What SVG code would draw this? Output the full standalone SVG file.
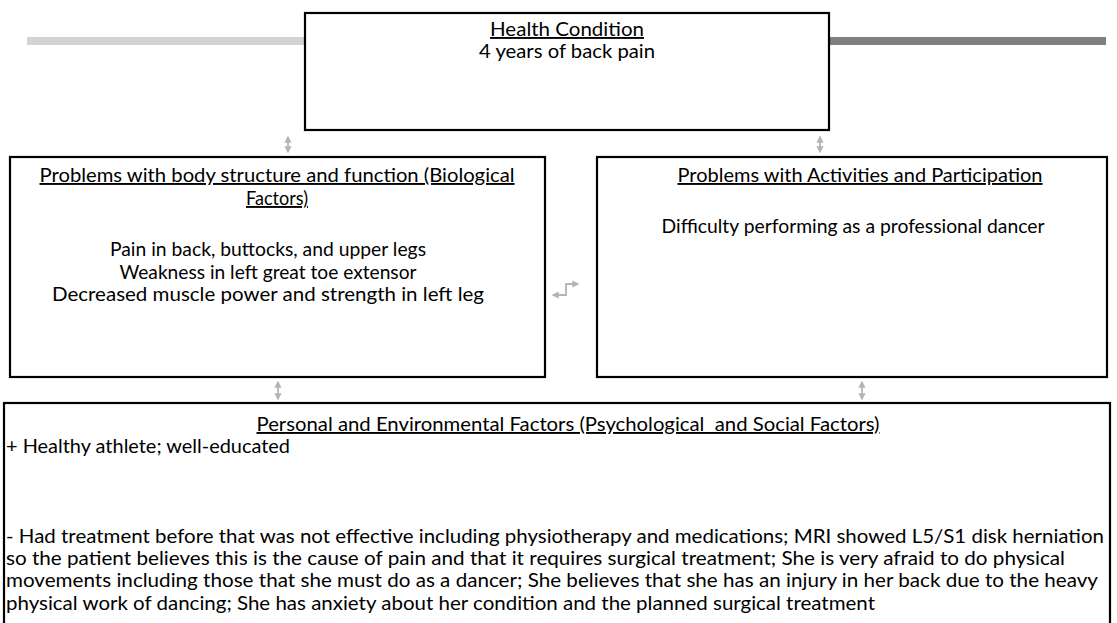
<svg xmlns="http://www.w3.org/2000/svg" width="1117" height="623" viewBox="0 0 1117 623">
<defs>
<style>
.box{fill:#fff;stroke:#000;stroke-width:2.2}
.t{font-family:"Lato","Liberation Sans",sans-serif;font-size:19px;fill:#000}
.c{text-anchor:middle}
.u{text-decoration:underline}
.conn{fill:none;stroke:#b4b4b4;stroke-width:1.8}
</style>
<marker id="ah" viewBox="0 0 10 10" refX="8" refY="5" markerWidth="4" markerHeight="4" orient="auto-start-reverse">
<path d="M0,0 L10,5 L0,10 z" fill="#b4b4b4"/>
</marker>
</defs>
<rect width="1117" height="623" fill="#fff"/>
<g id="bars">
<line x1="27" y1="41" x2="305" y2="41" stroke="#d3d3d3" stroke-width="8"/>
<line x1="829" y1="41" x2="1106" y2="41" stroke="#808080" stroke-width="8"/>
</g>
<g id="connectors">
<line class="conn" x1="288" y1="137" x2="288" y2="152" marker-start="url(#ah)" marker-end="url(#ah)"/>
<line class="conn" x1="820" y1="137" x2="820" y2="152" marker-start="url(#ah)" marker-end="url(#ah)"/>
<line class="conn" x1="278" y1="382" x2="278" y2="399" marker-start="url(#ah)" marker-end="url(#ah)"/>
<line class="conn" x1="862" y1="382" x2="862" y2="399" marker-start="url(#ah)" marker-end="url(#ah)"/>
<path class="conn" d="M553 295 H566 V284 H578" stroke-width="2" marker-start="url(#ah)" marker-end="url(#ah)"/>
</g>
<g id="health">
<rect class="box" x="305" y="13" width="524" height="117"/>
<text class="t c u" x="567" y="36" textLength="154" lengthAdjust="spacingAndGlyphs">Health Condition</text>
<text class="t c" x="567" y="58" textLength="176" lengthAdjust="spacingAndGlyphs">4 years of back pain</text>
</g>
<g id="body">
<rect class="box" x="10" y="157" width="535" height="220"/>
<text class="t c u" x="277" y="182" textLength="475" lengthAdjust="spacingAndGlyphs">Problems with body structure and function (Biological</text>
<text class="t c u" x="277" y="205" textLength="62" lengthAdjust="spacingAndGlyphs">Factors)</text>
<text class="t c" x="268" y="256" textLength="316" lengthAdjust="spacingAndGlyphs">Pain in back, buttocks, and upper legs</text>
<text class="t c" x="268" y="279" textLength="297" lengthAdjust="spacingAndGlyphs">Weakness in left great toe extensor</text>
<text class="t c" x="268" y="301" textLength="432" lengthAdjust="spacingAndGlyphs">Decreased muscle power and strength in left leg</text>
</g>
<g id="activities">
<rect class="box" x="597" y="157" width="510" height="220"/>
<text class="t c u" x="860" y="182" textLength="365" lengthAdjust="spacingAndGlyphs">Problems with Activities and Participation</text>
<text class="t c" x="853" y="233" textLength="383" lengthAdjust="spacingAndGlyphs">Difficulty performing as a professional dancer</text>
</g>
<g id="personal">
<rect class="box" x="4" y="403" width="1106" height="240"/>
<text class="t c u" x="568" y="431" xml:space="preserve" textLength="623" lengthAdjust="spacingAndGlyphs">Personal and Environmental Factors (Psychological  and Social Factors)</text>
<text class="t" x="6" y="453" textLength="284" lengthAdjust="spacingAndGlyphs">+ Healthy athlete; well-educated</text>
<text class="t" x="6" y="543" textLength="1098" lengthAdjust="spacingAndGlyphs">- Had treatment before that was not effective including physiotherapy and medications; MRI showed L5/S1 disk herniation</text>
<text class="t" x="6" y="565" textLength="1059" lengthAdjust="spacingAndGlyphs">so the patient believes this is the cause of pain and that it requires surgical treatment; She is very afraid to do physical</text>
<text class="t" x="6" y="587" textLength="1092" lengthAdjust="spacingAndGlyphs">movements including those that she must do as a dancer; She believes that she has an injury in her back due to the heavy</text>
<text class="t" x="6" y="610" textLength="869" lengthAdjust="spacingAndGlyphs">physical work of dancing; She has anxiety about her condition and the planned surgical treatment</text>
</g>
</svg>
